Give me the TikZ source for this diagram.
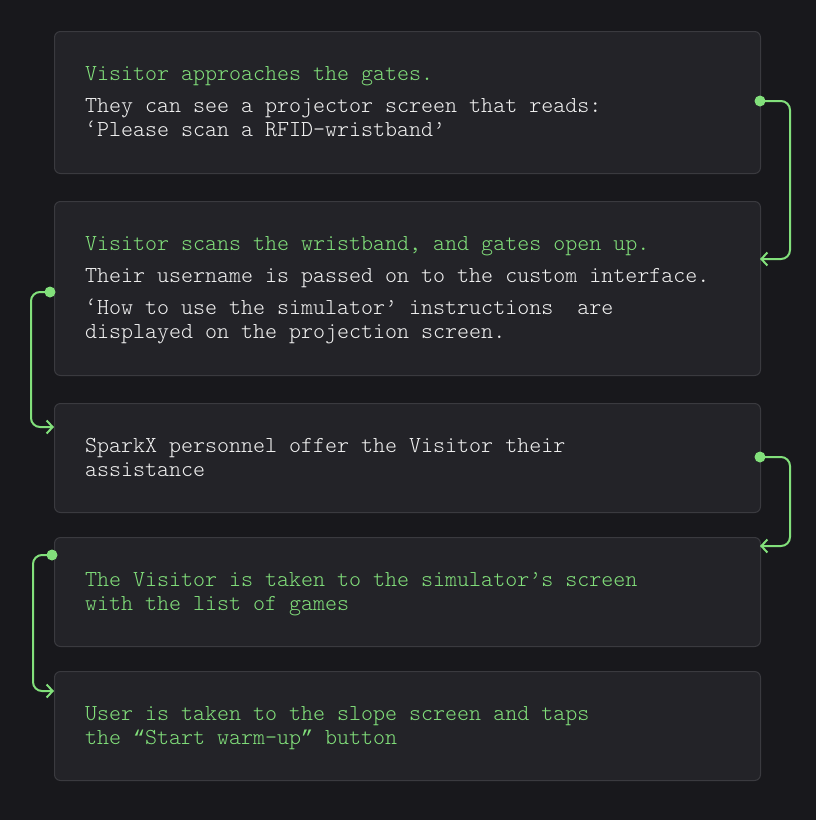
\documentclass[tikz,border=0pt]{standalone}
\usepackage{fontspec}
\setmainfont{lmmonolt10-regular.otf}
\newfontfamily\qfont{Liberation Mono}
\usetikzlibrary{arrows.meta}
\definecolor{bg}{HTML}{18181C}
\definecolor{boxfill}{HTML}{232328}
\definecolor{boxline}{HTML}{3A3A3F}
\definecolor{grn}{HTML}{82E07B}
\definecolor{txt}{HTML}{F2F2F2}
\tikzset{
  card/.style={draw=boxline, fill=boxfill, line width=1pt, rounded corners=6pt, inner sep=0pt, anchor=north west},
  para/.style={anchor=base west, inner sep=0pt, align=left, font=\fontsize{22.86pt}{24pt}\selectfont},
  title/.style={para, text=grn},
  body/.style={para, text=txt},
  conn/.style={draw=grn, line width=2pt, rounded corners=9pt, -{Straight Barb[length=6pt,width=13pt,line width=2pt]}},
  dotmark/.style={circle, fill=grn, inner sep=0pt, minimum size=11pt}
}
\begin{document}
\begin{tikzpicture}[x=1pt,y=-1pt]
\fill[bg] (0,0) rectangle (816,820);
\useasboundingbox (0,0) rectangle (816,820);
% cards
\node[card, minimum width=706pt, minimum height=142pt] (b1) at (54,31) {};
\node[card, minimum width=706pt, minimum height=174pt] (b2) at (54,201) {};
\node[card, minimum width=706pt, minimum height=109pt] (b3) at (54,403) {};
\node[card, minimum width=706pt, minimum height=109pt] (b4) at (54,537) {};
\node[card, minimum width=706pt, minimum height=109pt] (b5) at (54,671) {};
% texts (multi-line nodes placed at the baseline of their last line)
\node[title] (t1) at (85,80) {Visitor approaches the gates.};
\node[body] (s1) at (85,136) {They can see a projector screen that reads:\\‘Please scan a RFID-wristband’};
\node[title] (t2) at (85,250) {Visitor scans the wristband, and gates open up.};
\node[body] (s2) at (85,282) {Their username is passed on to the custom interface.};
\node[body] (s2b) at (85,338) {‘How to use the simulator’ instructions\ \ are\\displayed on the projection screen.};
\node[body] (s3) at (85,476) {SparkX personnel offer the Visitor their\\assistance};
\node[title] (t4) at (85,610) {The Visitor is taken to the simulator’s screen\\with the list of games};
\node[title] (t5) at (85,744) {User is taken to the slope screen and taps\\the {\qfont\fontsize{20pt}{24pt}\selectfont “}Start warm-up{\qfont\fontsize{20pt}{24pt}\selectfont ”} button};
% connectors
\coordinate (c1s) at (760,101);
\coordinate (c1e) at (760,259);
\coordinate (c2s) at (50,292);
\coordinate (c2e) at (54,427);
\coordinate (c3s) at (760,457);
\coordinate (c3e) at (760,546);
\coordinate (c4s) at (52,555);
\coordinate (c4e) at (54,691);
\draw[conn] (c1s) -- (790,101) -- (790,259) -- (c1e);
\draw[conn] (c2s) -- (31,292) -- (31,427) -- (c2e);
\draw[conn] (c3s) -- (790,457) -- (790,546) -- (c3e);
\draw[conn] (c4s) -- (33,555) -- (33,691) -- (c4e);
\node[dotmark] (d1) at (c1s) {};
\node[dotmark] (d2) at (c2s) {};
\node[dotmark] (d3) at (c3s) {};
\node[dotmark] (d4) at (c4s) {};
\end{tikzpicture}
\end{document}
